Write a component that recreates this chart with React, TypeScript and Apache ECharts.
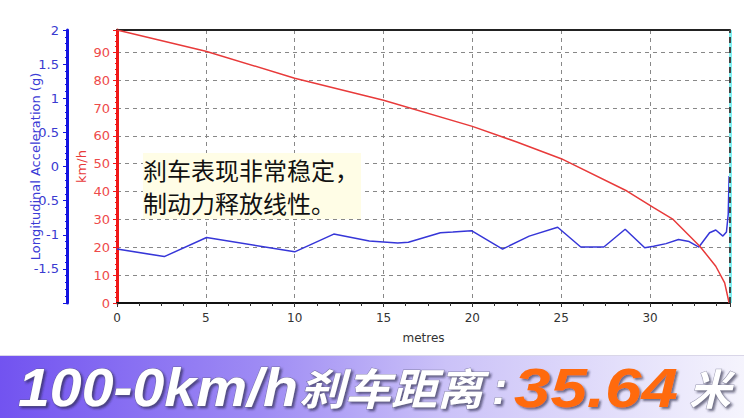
import React, { useEffect, useRef } from "react";
import * as echarts from "echarts";

// ---- data ----
const X_MAX = 34.5;
const speedDist = [0, 5, 10, 15, 20, 22.5, 25, 28.7, 30.2, 31.3, 32.8, 33.7, 34.2, 34.45];
const speedKmh = [98, 90.4, 80.7, 72.8, 63.4, 57.8, 51.8, 40.2, 34.2, 30, 20.4, 13.2, 7.2, 0];

const accelDist = [0, 2.66, 5.04, 10.0, 12.2, 14.2, 15.8, 16.4, 18.2, 18.9, 19.95, 21.7, 23.2, 24.8, 26.1, 27.4, 28.6, 29.7, 30.2, 30.9, 31.6, 32.2, 32.75, 33.35, 33.7, 34.1, 34.3, 34.4, 34.45];
const accelG = [-1.21, -1.32, -1.04, -1.25, -0.99, -1.09, -1.12, -1.11, -0.97, -0.96, -0.94, -1.21, -1.02, -0.89, -1.18, -1.18, -0.92, -1.19, -1.17, -1.13, -1.07, -1.1, -1.18, -0.97, -0.93, -1.02, -0.96, -0.7, -0.14];

const xAxisName = "metres";
const speedAxisName = "km/h";
const accelAxisName = "Longitudinal Acceleration (g)";
const noteLines = ["刹车表现非常稳定，", "制动力释放线性。"];
const bannerLead = "100-0km/h";
const bannerCn = "刹车距离";
const bannerColon = ":";
const bannerValue = "35.64";
const bannerUnit = "米";

const AX_FONT = "DejaVu Sans";

export default function App() {
  const ref = useRef<HTMLDivElement>(null);

  useEffect(() => {
    if (!ref.current) return;
    const chart = echarts.init(ref.current, null, { renderer: "svg" });

    const speedData = speedDist.map((d, i) => [d, speedKmh[i]]);
    const accelData = accelDist.map((d, i) => [d, accelG[i]]);

    const bannerPieces = [
      { text: bannerLead, x: 18, y: 388, font: "Liberation Sans", size: 54, sx: 1.06, fill: "#ffffff", outline: true },
      { text: bannerCn, x: 299, y: 386, font: "Noto Sans CJK SC", size: 43, sx: 1.07, fill: "#ffffff", outline: true },
      { text: bannerColon, x: 492, y: 388, font: "Liberation Sans", size: 46, sx: 1, fill: "#ffffff", outline: true },
      { text: bannerValue, x: 514, y: 388, font: "Liberation Sans", size: 56, sx: 1.17, fill: "#ff6a0a", outline: false },
      { text: bannerUnit, x: 689, y: 386, font: "Noto Sans CJK SC", size: 42, sx: 1.0, fill: "#ffffff", outline: true },
    ];
    const bannerTexts = bannerPieces.map((p) => {
      const style: any = {
        text: p.text,
        fontFamily: p.font,
        fontWeight: "bold",
        fontStyle: "italic",
        fontSize: p.size,
        lineHeight: p.size,
        verticalAlign: "middle",
        align: "left",
        fill: p.fill,
        textShadowColor: "rgba(30,30,60,0.6)",
        textShadowBlur: 2,
        textShadowOffsetX: 2,
        textShadowOffsetY: 2,
      };
      if (p.outline) {
        style.stroke = "rgba(90,90,120,0.6)";
        style.lineWidth = 1;
      }
      return { type: "text", x: p.x, y: p.y, scaleX: p.sx, z: 102, style };
    });

    chart.setOption({
      animation: false,
      backgroundColor: "#ffffff",
      grid: { left: 117, right: 14, top: 30, bottom: 115, containLabel: false },
      xAxis: [
        {
          type: "value",
          min: 0,
          max: X_MAX,
          interval: 5,
          position: "bottom",
          name: xAxisName,
          nameLocation: "middle",
          nameGap: 29,
          nameMoveOverlap: false,
          nameTextStyle: { color: "#333", fontSize: 12, fontFamily: AX_FONT },
          axisLine: { show: true, onZero: false, lineStyle: { color: "#111", width: 2 } },
          axisTick: { show: true, length: 4, lineStyle: { color: "#333" } },
          minorTick: { show: true, splitNumber: 4, length: 3, lineStyle: { color: "#333" } },
          axisLabel: { color: "#333", fontSize: 12, fontFamily: AX_FONT, margin: 9, showMaxLabel: false },
          splitLine: { show: true, lineStyle: { color: "#888", type: [4, 4], width: 1 } },
        },
        {
          type: "value",
          min: 0,
          max: X_MAX,
          position: "top",
          axisLine: { show: true, onZero: false, lineStyle: { color: "#222", width: 2 } },
          axisTick: { show: false },
          axisLabel: { show: false },
          splitLine: { show: false },
        },
      ],
      yAxis: [
        {
          type: "value",
          min: 0,
          max: 98,
          interval: 10,
          position: "left",
          name: speedAxisName,
          nameLocation: "middle",
          nameGap: 29,
          nameMoveOverlap: false,
          nameTextStyle: { color: "#e83a3a", fontSize: 13, fontFamily: AX_FONT },
          axisLine: { show: true, onZero: false, lineStyle: { color: "#f01818", width: 3 } },
          axisTick: { show: true, length: 4, lineStyle: { color: "#f01818" } },
          minorTick: { show: true, splitNumber: 5, length: 2, lineStyle: { color: "#f01818" } },
          axisLabel: { color: "#ee4a4a", fontSize: 13, fontFamily: AX_FONT, margin: 7, showMaxLabel: false },
          splitLine: { show: true, lineStyle: { color: "#888", type: [4, 4], width: 1 } },
        },
        {
          type: "value",
          min: -2,
          max: 2,
          interval: 0.5,
          position: "left",
          offset: 50,
          name: accelAxisName,
          nameLocation: "middle",
          nameGap: 25,
          nameMoveOverlap: false,
          nameTextStyle: { color: "#3b3bd6", fontSize: 13, fontFamily: AX_FONT },
          axisLine: { show: true, onZero: false, lineStyle: { color: "#1414e0", width: 3 } },
          axisTick: { show: true, length: 4, lineStyle: { color: "#1414e0" } },
          minorTick: { show: true, splitNumber: 5, length: 2, lineStyle: { color: "#1414e0" } },
          axisLabel: { color: "#3a3ad0", fontSize: 13, fontFamily: AX_FONT, margin: 8, showMinLabel: false },
          splitLine: { show: false },
        },
      ],
      series: [
        {
          type: "line",
          name: "accel",
          xAxisIndex: 0,
          yAxisIndex: 1,
          data: accelData,
          showSymbol: false,
          lineStyle: { color: "#3636d8", width: 1.5 },
          z: 3,
        },
        {
          type: "line",
          name: "speed",
          xAxisIndex: 0,
          yAxisIndex: 0,
          data: speedData,
          showSymbol: false,
          lineStyle: { color: "#e83a3a", width: 1.5 },
          z: 4,
          markLine: {
            silent: true,
            symbol: "none",
            label: { show: false },
            data: [
              { xAxis: X_MAX, lineStyle: { color: "#7ff0f0", type: "solid", width: 3 } },
              { xAxis: X_MAX, lineStyle: { color: "#444", type: [6, 4], width: 2 } },
            ],
          },
        },
      ],
      graphic: [
        {
          type: "text",
          left: 143,
          top: 153,
          z: 100,
          style: {
            text: noteLines.join("\n"),
            fontFamily: "Noto Sans CJK SC",
            fontSize: 24,
            lineHeight: 33,
            fill: "#111",
            backgroundColor: "#fffde6",
            padding: [0, 2, 0, 0],
          },
        },
        {
          type: "rect",
          left: 0,
          top: 356,
          z: 99,
          shape: { width: 744, height: 62 },
          style: {
            fill: new echarts.graphic.LinearGradient(0, 0, 1, 0, [
              { offset: 0, color: "#7253f0" },
              { offset: 0.35, color: "#9e8bf4" },
              { offset: 0.6, color: "#cbc2f8" },
              { offset: 1, color: "#f5f4fd" },
            ]),
          },
        },
        {
          type: "rect",
          left: 0,
          top: 355,
          z: 99,
          shape: { width: 744, height: 1 },
          style: { fill: "#d9d6e8" },
        },
        ...bannerTexts,
      ],
    });

    return () => chart.dispose();
  }, []);

  return (
    <div
      ref={ref}
      style={{ position: "fixed", left: 0, top: 0, width: 744, height: 418, background: "#fff" }}
    />
  );
}
